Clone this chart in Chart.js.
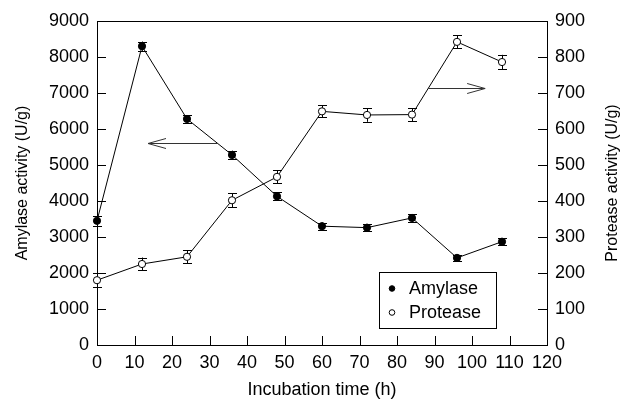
<!DOCTYPE html>
<html>
<head>
<meta charset="utf-8">
<script src="https://cdn.jsdelivr.net/npm/chart.js@4.4.0/dist/chart.umd.min.js"></script>
<style>
  html, body { margin: 0; padding: 0; background: #fff; }
  #wrap { width: 622px; height: 401px; position: relative; }
</style>
</head>
<body>
<div id="wrap"><canvas id="chart"></canvas></div>
<script>
// Data
const hours = [0, 12, 24, 36, 48, 60, 72, 84, 96, 108];
const amylase = [3450, 8300, 6280, 5280, 4130, 3300, 3260, 3530, 2420, 2870];
const amylaseErr = [140, 130, 100, 120, 110, 100, 100, 110, 90, 100];
const protease = [180, 225, 245, 402, 467, 649, 639, 640, 842, 786];
const proteaseErr = [20, 18, 18, 20, 18, 17, 19, 18, 18, 20];

const xTicks = [0, 10, 20, 30, 40, 50, 60, 70, 80, 90, 100, 110, 120];
const leftTicks = [0, 1000, 2000, 3000, 4000, 5000, 6000, 7000, 8000, 9000];
const rightTicks = [0, 100, 200, 300, 400, 500, 600, 700, 800, 900];

const xTitle = 'Incubation time (h)';
const leftTitle = 'Amylase activity (U/g)';
const rightTitle = 'Protease activity (U/g)';

// arrows pointing to the axis each curve belongs to
const arrows = [
  { axis: 'y', from: [32, 5600], to: [13.6, 5600] },
  { axis: 'y1', from: [88.3, 715], to: [103.5, 715] }
];

const FONT = "'Liberation Sans', Arial, Helvetica, sans-serif";

function points(xs, ys) {
  return xs.map((x, i) => ({ x: x, y: ys[i] }));
}

const figurePlugin = {
  id: 'figure',
  beforeDatasetsDraw(chart) {
    const ctx = chart.ctx;
    const xs = chart.scales.x;
    ctx.save();
    ctx.strokeStyle = '#000';
    ctx.lineWidth = 1;
    chart.data.datasets.forEach(ds => {
      const ys = chart.scales[ds.yAxisID];
      ds.data.forEach((p, i) => {
        const px = Math.round(xs.getPixelForValue(p.x)) + 0.5;
        const top = ys.getPixelForValue(p.y + ds.errors[i]);
        const bot = ys.getPixelForValue(p.y - ds.errors[i]);
        ctx.beginPath();
        ctx.moveTo(px, top); ctx.lineTo(px, bot);
        ctx.moveTo(px - 4.5, Math.round(top) + 0.5); ctx.lineTo(px + 4.5, Math.round(top) + 0.5);
        ctx.moveTo(px - 4.5, Math.round(bot) + 0.5); ctx.lineTo(px + 4.5, Math.round(bot) + 0.5);
        ctx.stroke();
      });
    });
    ctx.restore();
  },
  afterDraw(chart) {
    const ctx = chart.ctx;
    const area = chart.chartArea;
    const xs = chart.scales.x, yl = chart.scales.y, yr = chart.scales.y1;
    ctx.save();
    ctx.strokeStyle = '#000';
    ctx.lineWidth = 1;

    // top frame line
    ctx.beginPath();
    ctx.moveTo(area.left, Math.round(area.top) + 0.5);
    ctx.lineTo(area.right, Math.round(area.top) + 0.5);
    ctx.stroke();

    // inward ticks
    ctx.beginPath();
    xTicks.forEach(v => {
      const px = Math.round(xs.getPixelForValue(v)) + 0.5;
      ctx.moveTo(px, area.bottom); ctx.lineTo(px, area.bottom - 9);
    });
    leftTicks.forEach(v => {
      const py = Math.round(yl.getPixelForValue(v)) + 0.5;
      ctx.moveTo(area.left, py); ctx.lineTo(area.left + 9, py);
    });
    rightTicks.forEach(v => {
      const py = Math.round(yr.getPixelForValue(v)) + 0.5;
      ctx.moveTo(area.right, py); ctx.lineTo(area.right - 9, py);
    });
    ctx.stroke();

    // arrows
    ctx.strokeStyle = '#333';
    arrows.forEach(a => {
      const ys = chart.scales[a.axis];
      const x1 = xs.getPixelForValue(a.from[0]), y1 = Math.round(ys.getPixelForValue(a.from[1])) + 0.5;
      const x2 = xs.getPixelForValue(a.to[0]), y2 = Math.round(ys.getPixelForValue(a.to[1])) + 0.5;
      const dir = x2 > x1 ? 1 : -1;
      ctx.beginPath();
      ctx.moveTo(x1, y1); ctx.lineTo(x2, y2);
      ctx.moveTo(x2 - dir * 18, y2 - 5); ctx.lineTo(x2, y2); ctx.lineTo(x2 - dir * 18, y2 + 5);
      ctx.stroke();
    });

    // legend box
    ctx.strokeStyle = '#000';
    const bx = area.left + 282, by = area.top + 251, bw = 117, bh = 56;
    ctx.fillStyle = '#fff';
    ctx.fillRect(bx, by, bw, bh);
    ctx.strokeRect(bx + 0.5, by + 0.5, bw, bh);
    ctx.font = '18px ' + FONT;
    ctx.textBaseline = 'middle';
    chart.data.datasets.forEach((ds, i) => {
      const cy = by + 16.5 + i * 24;
      ctx.beginPath();
      ctx.arc(bx + 13, cy, 2.8, 0, Math.PI * 2);
      ctx.fillStyle = ds.pointBackgroundColor;
      ctx.fill();
      ctx.strokeStyle = '#000';
      ctx.stroke();
      ctx.fillStyle = '#000';
      ctx.fillText(ds.label, bx + 30, cy + 1);
    });

    // right axis title, reading bottom to top
    ctx.font = '16px ' + FONT;
    ctx.translate(613, (area.top + area.bottom) / 2);
    ctx.rotate(-Math.PI / 2);
    ctx.textAlign = 'center';
    ctx.textBaseline = 'middle';
    ctx.fillStyle = '#000';
    ctx.fillText(rightTitle, 0, 0);
    ctx.restore();
  }
};

const tickFont = { family: FONT, size: 18 };
const plainLabel = v => String(v);

new Chart(document.getElementById('chart'), {
  type: 'line',
  data: {
    datasets: [
      {
        label: 'Amylase',
        data: points(hours, amylase),
        errors: amylaseErr,
        yAxisID: 'y',
        borderColor: '#000',
        borderWidth: 1,
        pointRadius: 3.6,
        pointBackgroundColor: '#000',
        pointBorderColor: '#000',
        pointBorderWidth: 1,
        tension: 0,
        clip: false
      },
      {
        label: 'Protease',
        data: points(hours, protease),
        errors: proteaseErr,
        yAxisID: 'y1',
        borderColor: '#000',
        borderWidth: 1,
        pointRadius: 3.6,
        pointBackgroundColor: '#fff',
        pointBorderColor: '#000',
        pointBorderWidth: 1,
        tension: 0,
        clip: false
      }
    ]
  },
  options: {
    responsive: true,
    maintainAspectRatio: false,
    animation: false,
    devicePixelRatio: 1,
    layout: { padding: { top: 21, left: 0, right: 0, bottom: 0 } },
    plugins: {
      legend: { display: false },
      tooltip: { enabled: false }
    },
    scales: {
      x: {
        type: 'linear',
        min: 0, max: 120,
        afterFit(scale) { scale.height = 56; },
        afterBuildTicks(scale) { scale.ticks = xTicks.map(v => ({ value: v })); },
        grid: { display: false, drawTicks: false },
        border: { display: true, color: '#000', width: 1 },
        ticks: { color: '#000', font: tickFont, padding: 7, maxRotation: 0, autoSkip: false, callback: plainLabel },
        title: { display: true, text: xTitle, color: '#000', font: { family: FONT, size: 18 }, padding: { top: 0, bottom: 0 } }
      },
      y: {
        position: 'left',
        min: 0, max: 9000,
        afterFit(scale) { scale.width = 97; },
        afterBuildTicks(scale) { scale.ticks = leftTicks.map(v => ({ value: v })); },
        grid: { display: false, drawTicks: false },
        border: { display: true, color: '#000', width: 1 },
        ticks: { color: '#000', font: tickFont, padding: 8, callback: plainLabel },
        title: { display: true, text: leftTitle, color: '#000', font: { family: FONT, size: 16 }, padding: { top: 13, bottom: 0 } }
      },
      y1: {
        position: 'right',
        min: 0, max: 900,
        afterFit(scale) { scale.width = 75; },
        afterBuildTicks(scale) { scale.ticks = rightTicks.map(v => ({ value: v })); },
        grid: { display: false, drawTicks: false },
        border: { display: true, color: '#000', width: 1 },
        ticks: { color: '#000', font: tickFont, padding: 8, callback: plainLabel }
      }
    }
  },
  plugins: [figurePlugin]
});
</script>
</body>
</html>
